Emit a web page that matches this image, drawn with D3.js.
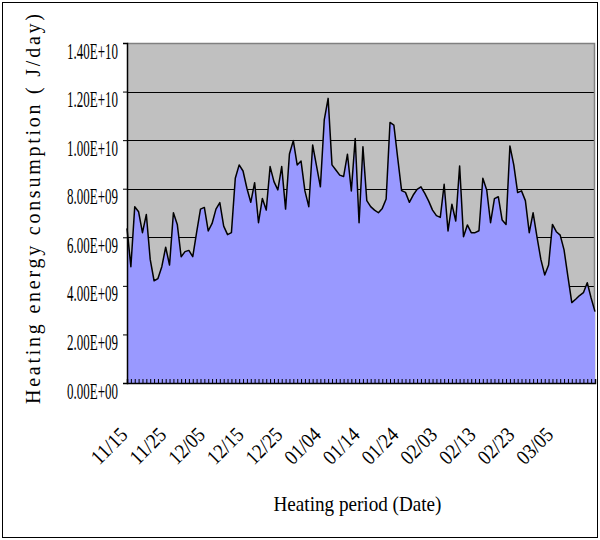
<!DOCTYPE html>
<html>
<head>
<meta charset="utf-8">
<script src="https://cdn.jsdelivr.net/npm/d3@7"></script>
<style>
html,body{margin:0;padding:0;background:#fff;}
svg{display:block;}
text{font-family:"Liberation Serif","DejaVu Serif",serif;fill:#000;}
</style>
</head>
<body>
<svg id="chart" width="600" height="540"></svg>
<script>
// ---- data ----
// Daily heating energy consumption, in units of 1E+09 J/day (11/15 .. 03/16)
const values = [
 6.37,4.79,7.26,7.05,6.19,6.94,5.09,4.21,4.30,4.79,
 5.59,4.86,7.01,6.53,5.20,5.41,5.46,5.20,6.20,7.16,
 7.23,6.26,6.57,7.16,7.43,6.46,6.11,6.19,8.43,8.98,
 8.73,8.02,7.44,8.25,6.60,7.60,7.12,8.91,8.29,7.95,
 8.91,7.16,9.43,9.98,8.98,9.14,7.91,7.26,9.80,8.94,
 8.08,10.83,11.72,8.98,8.77,8.56,8.50,9.42,7.91,10.07,
 6.60,9.73,7.51,7.26,7.12,7.01,7.19,7.58,10.73,10.62,
 9.25,7.92,7.85,7.44,7.74,7.97,8.08,7.81,7.49,7.12,
 6.89,6.82,8.18,6.26,7.36,6.67,8.94,6.02,6.51,6.19,
 6.19,6.27,8.43,7.95,6.60,7.59,7.67,6.71,6.53,9.76,
 8.98,7.84,7.91,7.51,6.19,7.01,6.02,5.09,4.45,4.86,
 6.53,6.23,6.09,5.48,4.38,3.31,3.45,3.60,3.72,4.13,
 3.50,2.94
];
const xTickLabels = ["11/15","11/25","12/05","12/15","12/25","01/04","01/14","01/24","02/03","02/13","02/23","03/05"];
const yTickValues = [0,2,4,6,8,10,12,14];
const yTickLabels = ["0.00E+00","2.00E+09","4.00E+09","6.00E+09","8.00E+09","1.00E+10","1.20E+10","1.40E+10"];
const yTitle = "Heating energy consumption ( J/day)";
const xTitle = "Heating period (Date)";

// ---- layout ----
const L = 127, R = 595, T = 43, B = 383;
const svg = d3.select("#chart");

svg.append("rect").attr("x",2.5).attr("y",2.5).attr("width",595).attr("height",535)
  .attr("fill","#fff").attr("stroke","#000").attr("stroke-width",1);

const x = d3.scaleLinear().domain([0, values.length - 1]).range([L, R]);
const y = d3.scaleLinear().domain([0, 14]).range([B, T]);

// plot background
svg.append("rect").attr("x",L).attr("y",T).attr("width",R-L).attr("height",B-T)
  .attr("fill","#C0C0C0");

// gridlines
svg.append("g").selectAll("line").data(yTickValues.filter(v=>v>0 && v<14)).join("line")
  .attr("x1",L).attr("x2",R).attr("y1",d=>Math.round(y(d))+0.5).attr("y2",d=>Math.round(y(d))+0.5)
  .attr("stroke","#000").attr("stroke-width",1);

// plot border top/right
svg.append("path").attr("d",`M${L},${T+0.5}H${R-0.5}V${B}`).attr("fill","none")
  .attr("stroke","#808080").attr("stroke-width",1.5);

// area
const area = d3.area().x((d,i)=>x(i)).y0(y(0)).y1(d=>y(d));
svg.append("path").datum(values).attr("d",area).attr("fill","#9999FF");
const line = d3.line().x((d,i)=>x(i)).y(d=>y(d));
svg.append("path").datum(values).attr("d",line).attr("fill","none")
  .attr("stroke","#000").attr("stroke-width",1.5).attr("stroke-linejoin","round");

// x axis with inward ticks at each category
const xAxis = d3.axisBottom(x).tickValues(d3.range(values.length)).tickSize(-4).tickFormat("");
const gx = svg.append("g").attr("transform",`translate(0,${B})`).call(xAxis);
gx.select(".domain").attr("stroke","#000").attr("stroke-width",1.5);
gx.selectAll(".tick line").attr("stroke","#000").attr("stroke-width",1);

// y axis
const yAxis = d3.axisLeft(y).tickValues(yTickValues).tickSize(4).tickFormat("");
const gy = svg.append("g").attr("transform",`translate(${L},0)`).call(yAxis);
gy.select(".domain").attr("stroke","#000").attr("stroke-width",1.5);
gy.selectAll(".tick line").attr("stroke","#000");

// y tick labels
svg.append("g").selectAll("text").data(yTickValues).join("text")
  .attr("x",118).attr("y",d=>y(d)+15.5)
  .attr("text-anchor","end").attr("font-size",23)
  .attr("textLength",51).attr("lengthAdjust","spacingAndGlyphs")
  .text((d,i)=>yTickLabels[i]);

// x tick labels
svg.append("g").selectAll("text").data(xTickLabels).join("text")
  .attr("transform",(d,i)=>`translate(${x(i*10)+2},436) rotate(-45)`)
  .attr("text-anchor","end").attr("font-size",21)
  .attr("textLength",42).attr("lengthAdjust","spacingAndGlyphs")
  .text(d=>d);

// titles
svg.append("text").attr("transform","translate(40,209) rotate(-90)")
  .attr("text-anchor","middle").attr("font-size",20)
  .attr("textLength",390).attr("lengthAdjust","spacing")
  .text(yTitle);
svg.append("text").attr("x",357.5).attr("y",511)
  .attr("text-anchor","middle").attr("font-size",21)
  .attr("textLength",168).attr("lengthAdjust","spacingAndGlyphs")
  .text(xTitle);
</script>
</body>
</html>
